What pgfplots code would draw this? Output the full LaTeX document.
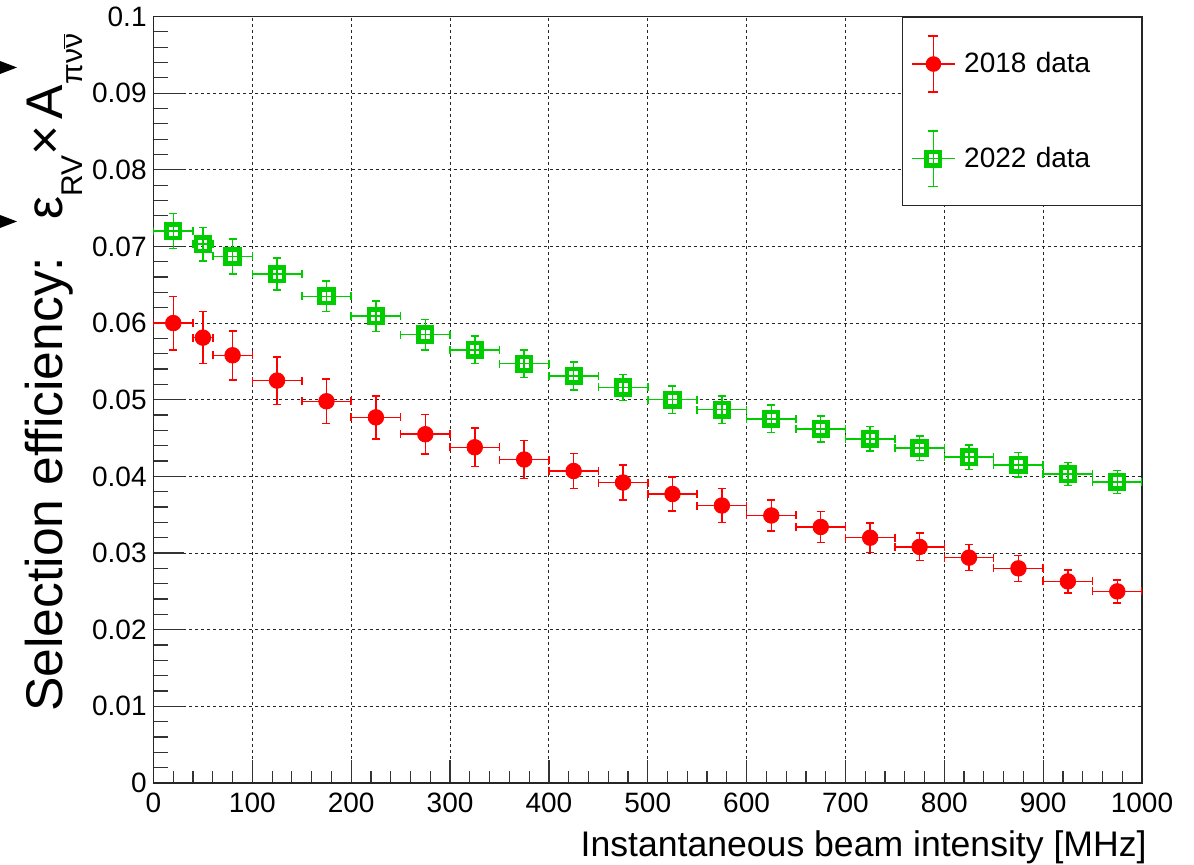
\documentclass[border=0pt]{standalone}
\usepackage{fontspec}
\setmainfont{Liberation Sans}
\usepackage{pgfplots}
\pgfplotsset{compat=1.18}
\usepackage{pgfplotstable}
\usetikzlibrary{calc}
\definecolor{rootred}{RGB}{255,0,0}
\definecolor{rootgreen}{RGB}{0,204,0}

\pgfplotstableread{
x ex y ey
20 20 0.0600 0.0035
50 10 0.0581 0.0034
80 20 0.0558 0.0032
125 25 0.0525 0.0031
175 25 0.0498 0.0029
225 25 0.0477 0.0028
275 25 0.0455 0.0026
325 25 0.0438 0.0025
375 25 0.0422 0.0025
425 25 0.0407 0.0023
475 25 0.0392 0.0023
525 25 0.0377 0.0022
575 25 0.0362 0.0022
625 25 0.0349 0.0020
675 25 0.0334 0.0020
725 25 0.0320 0.0019
775 25 0.0308 0.0018
825 25 0.0294 0.0017
875 25 0.0280 0.0017
925 25 0.0263 0.0015
975 25 0.0250 0.0015
}\redtab

\pgfplotstableread{
x ex y ey
20 20 0.0720 0.0023
50 10 0.0703 0.0022
80 20 0.0687 0.0023
125 25 0.0664 0.0021
175 25 0.0635 0.0020
225 25 0.0609 0.0020
275 25 0.0585 0.0020
325 25 0.0565 0.0018
375 25 0.0547 0.0018
425 25 0.0531 0.0018
475 25 0.0516 0.0017
525 25 0.0500 0.0018
575 25 0.0487 0.0018
625 25 0.0475 0.0018
675 25 0.0462 0.0017
725 25 0.0449 0.0016
775 25 0.0437 0.0016
825 25 0.0425 0.0016
875 25 0.0415 0.0016
925 25 0.0403 0.0015
975 25 0.0393 0.0015
}\greentab

\newcommand\sub[1]{\raisebox{-10pt}{\fontsize{15}{15}\selectfont #1}}

\begin{document}
\begin{tikzpicture}
\useasboundingbox (-76.75pt,-41pt) rectangle (520.25pt,391.5pt);
\begin{axis}[
  at={(0,0)}, anchor=south west,
  scale only axis, width=494.25pt, height=383.25pt,
  xmin=0, xmax=1000, ymin=0, ymax=0.1,
  xtick={0,100,200,300,400,500,600,700,800,900,1000},
  xticklabels={0,100,200,300,400,500,600,700,800,900,1000},
  ytick={0,0.01,0.02,0.03,0.04,0.05,0.06,0.07,0.08,0.09,0.1},
  yticklabels={0,0.01,0.02,0.03,0.04,0.05,0.06,0.07,0.08,0.09,0.1},
  scaled y ticks=false,
  minor x tick num=4, minor y tick num=4,
  tick align=inside, xtick pos=bottom, ytick pos=left,
  xtick style={black!80, line width=0.6pt, /pgfplots/major tick length=11.35pt, /pgfplots/minor tick length=5.85pt},
  ytick style={black!80, line width=0.6pt, /pgfplots/major tick length=15pt, /pgfplots/minor tick length=7.5pt},
  grid=major,
  major grid style={black!85, line width=0.5pt, dash pattern=on 1.5pt off 1.5pt},
  axis line style={black!85, line width=0.7pt},
  tick label style={font=\fontsize{14}{16}\selectfont},
  yticklabel style={inner sep=0pt, xshift=-3.25pt},
  xticklabel style={inner sep=0pt, yshift=-5pt},
  every axis x label/.style={at={(rel axis cs:1,0)}, anchor=base east, inner sep=0pt, xshift=2.5pt, yshift=-37pt, font=\fontsize{17.8}{20}\selectfont},
  every axis y label/.style={at={($(rel axis cs:0,1)+(-45.25pt,-8.5pt)$)}, rotate=90, anchor=base east, inner sep=0pt, font=\fontsize{25.8}{30}\selectfont},
  xlabel={Instantaneous beam intensity [MHz]},
  ylabel={Selection efficiency:\hspace{0.35em} ε\sub{RV}×\hspace{0.12em}A\sub{πν$\overline{\hbox{ν}}$}},
  legend style={at={(rel axis cs:1,1)}, anchor=north east, draw=black!85, line width=0.6pt, fill=white,
    inner xsep=4.6pt, inner ysep=9.2pt, row sep=18.75pt, column sep=4.35pt,
    font=\fontsize{14}{16}\selectfont,
    nodes={inner sep=0pt, text width=84pt, align=left, anchor=west}},
  legend cell align=left,
]
\addplot[only marks, color=rootred, mark=*, mark size=3.9pt,
  error bars/.cd, x dir=both, x explicit, y dir=both, y explicit,
  error mark=-,
  error bar style={line width=0.75pt, color=rootred},
  error mark options={rotate=90, line width=0.75pt, mark size=2pt, color=rootred},
  /pgfplots/legend image code/.code={
    \draw[rootred, line width=0.75pt] (0pt,0pt) -- (21.3pt,0pt);
    \draw[rootred, line width=0.75pt] (10.65pt,-13.9pt) -- (10.65pt,13.9pt);
    \draw[rootred, line width=0.75pt] (8.15pt,-13.9pt) -- (13.15pt,-13.9pt);
    \draw[rootred, line width=0.75pt] (8.15pt,13.9pt) -- (13.15pt,13.9pt);
    \fill[rootred] (10.65pt,0pt) circle (3.6pt);
  }]
  table[x=x, y=y, x error=ex, y error=ey]{\redtab};
\addlegendentry{2018 data}
\addplot[only marks, color=rootgreen, mark=square, mark size=3.4pt, mark options={line width=2.3pt},
  error bars/.cd, x dir=both, x explicit, y dir=both, y explicit,
  error mark=-,
  error bar style={line width=0.75pt, color=rootgreen},
  error mark options={rotate=90, line width=0.75pt, mark size=2pt, color=rootgreen},
  /pgfplots/legend image code/.code={
    \draw[rootgreen, line width=0.75pt] (0pt,0pt) -- (21.3pt,0pt);
    \draw[rootgreen, line width=0.75pt] (10.65pt,-13.9pt) -- (10.65pt,13.9pt);
    \draw[rootgreen, line width=0.75pt] (8.15pt,-13.9pt) -- (13.15pt,-13.9pt);
    \draw[rootgreen, line width=0.75pt] (8.15pt,13.9pt) -- (13.15pt,13.9pt);
    \draw[rootgreen, line width=2.3pt] (7.3pt,-3.35pt) rectangle (14pt,3.35pt);
  }]
  table[x=x, y=y, x error=ex, y error=ey]{\greentab};
\addlegendentry{2022 data}
\end{axis}
\fill[black] (-76.75pt,361pt) -- (-76.75pt,354.5pt) -- (-68.25pt,357.75pt) -- cycle;
\fill[black] (-76.75pt,284pt) -- (-76.75pt,277.5pt) -- (-68.25pt,280.75pt) -- cycle;
\end{tikzpicture}
\end{document}
